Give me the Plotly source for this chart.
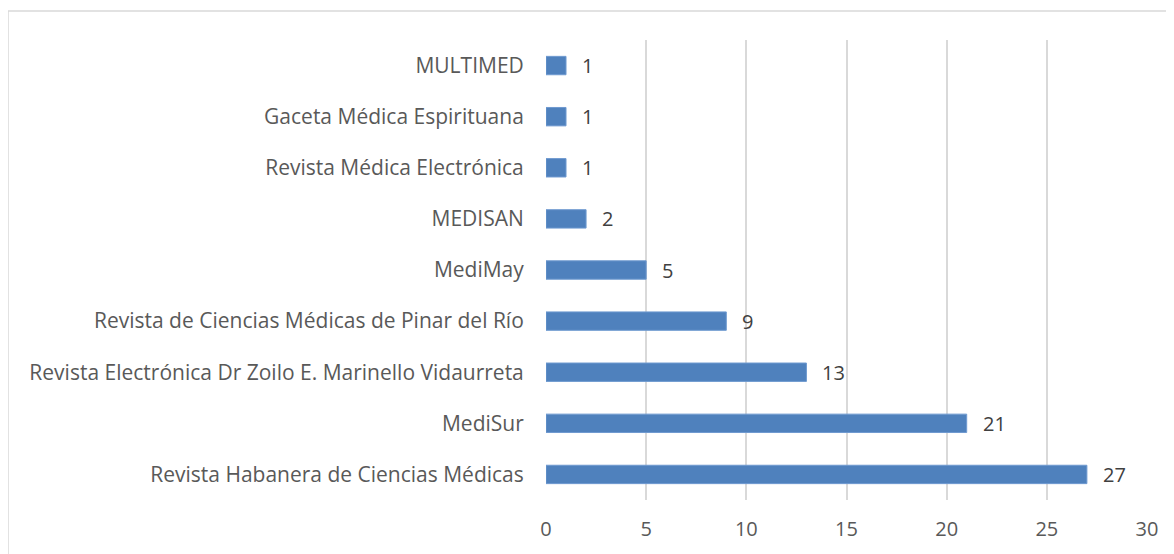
import plotly.graph_objects as go

categories = [
    "Revista Habanera de Ciencias Médicas",
    "MediSur",
    "Revista Electrónica Dr Zoilo E. Marinello Vidaurreta",
    "Revista de Ciencias Médicas de Pinar del Río",
    "MediMay",
    "MEDISAN",
    "Revista Médica Electrónica",
    "Gaceta Médica Espirituana",
    "MULTIMED",
]
values = [27, 21, 13, 9, 5, 2, 1, 1, 1]
x_ticks = [0, 5, 10, 15, 20, 25, 30]

FONT = "Open Sans"
FS = 21
TXT = "#595959"
LBL = "#404040"

fig = go.Figure(
    go.Bar(
        y=categories,
        x=values,
        orientation="h",
        marker=dict(color="#4F81BD", line=dict(color="#6f9ad0", width=1)),
        width=0.36,
        hoverinfo="x+y",
    )
)

for c, v in zip(categories, values):
    fig.add_annotation(
        x=v, y=c, text=str(v), showarrow=False, xanchor="left", xshift=14,
        font=dict(family=FONT, size=FS - 1, color=LBL),
    )

# page has an 8px body margin, so figure coords = page coords - 8
W, H = 1166, 546
L, R, T, B = 538, 27, 32, 54
pw, ph = W - L - R, H - T - B
bx0 = (0 - L) / pw
by1 = (H - B - 3) / ph
by0 = (H - B - 600) / ph
line = dict(color="#d9d9d9", width=1.5)
fig.add_shape(type="line", xref="paper", yref="paper", x0=bx0, x1=(W + 20 - L) / pw, y0=by1, y1=by1, line=line)
fig.add_shape(type="line", xref="paper", yref="paper", x0=bx0, x1=bx0, y0=by0, y1=by1, line=line)

fig.update_layout(
    width=W, height=H,
    margin=dict(l=L, r=R, t=T, b=B),
    paper_bgcolor="white", plot_bgcolor="white",
    showlegend=False,
    font=dict(family=FONT, size=FS, color=TXT),
)
fig.update_xaxes(
    range=[0, 30], tickvals=x_ticks, showgrid=True, gridcolor="#d9d9d9", gridwidth=1.5,
    zeroline=False, showline=False, ticks="outside", ticklen=11, tickcolor="rgba(0,0,0,0)",
    tickfont=dict(family=FONT, size=FS - 1, color=TXT), fixedrange=True,
)
fig.update_yaxes(
    categoryorder="array", categoryarray=categories, range=[-0.5, 8.5],
    showgrid=False, zeroline=False, showline=False,
    ticks="outside", ticklen=17, tickcolor="rgba(0,0,0,0)",
    tickfont=dict(family=FONT, size=FS, color=TXT), fixedrange=True,
)

fig.write_html("out.html")
